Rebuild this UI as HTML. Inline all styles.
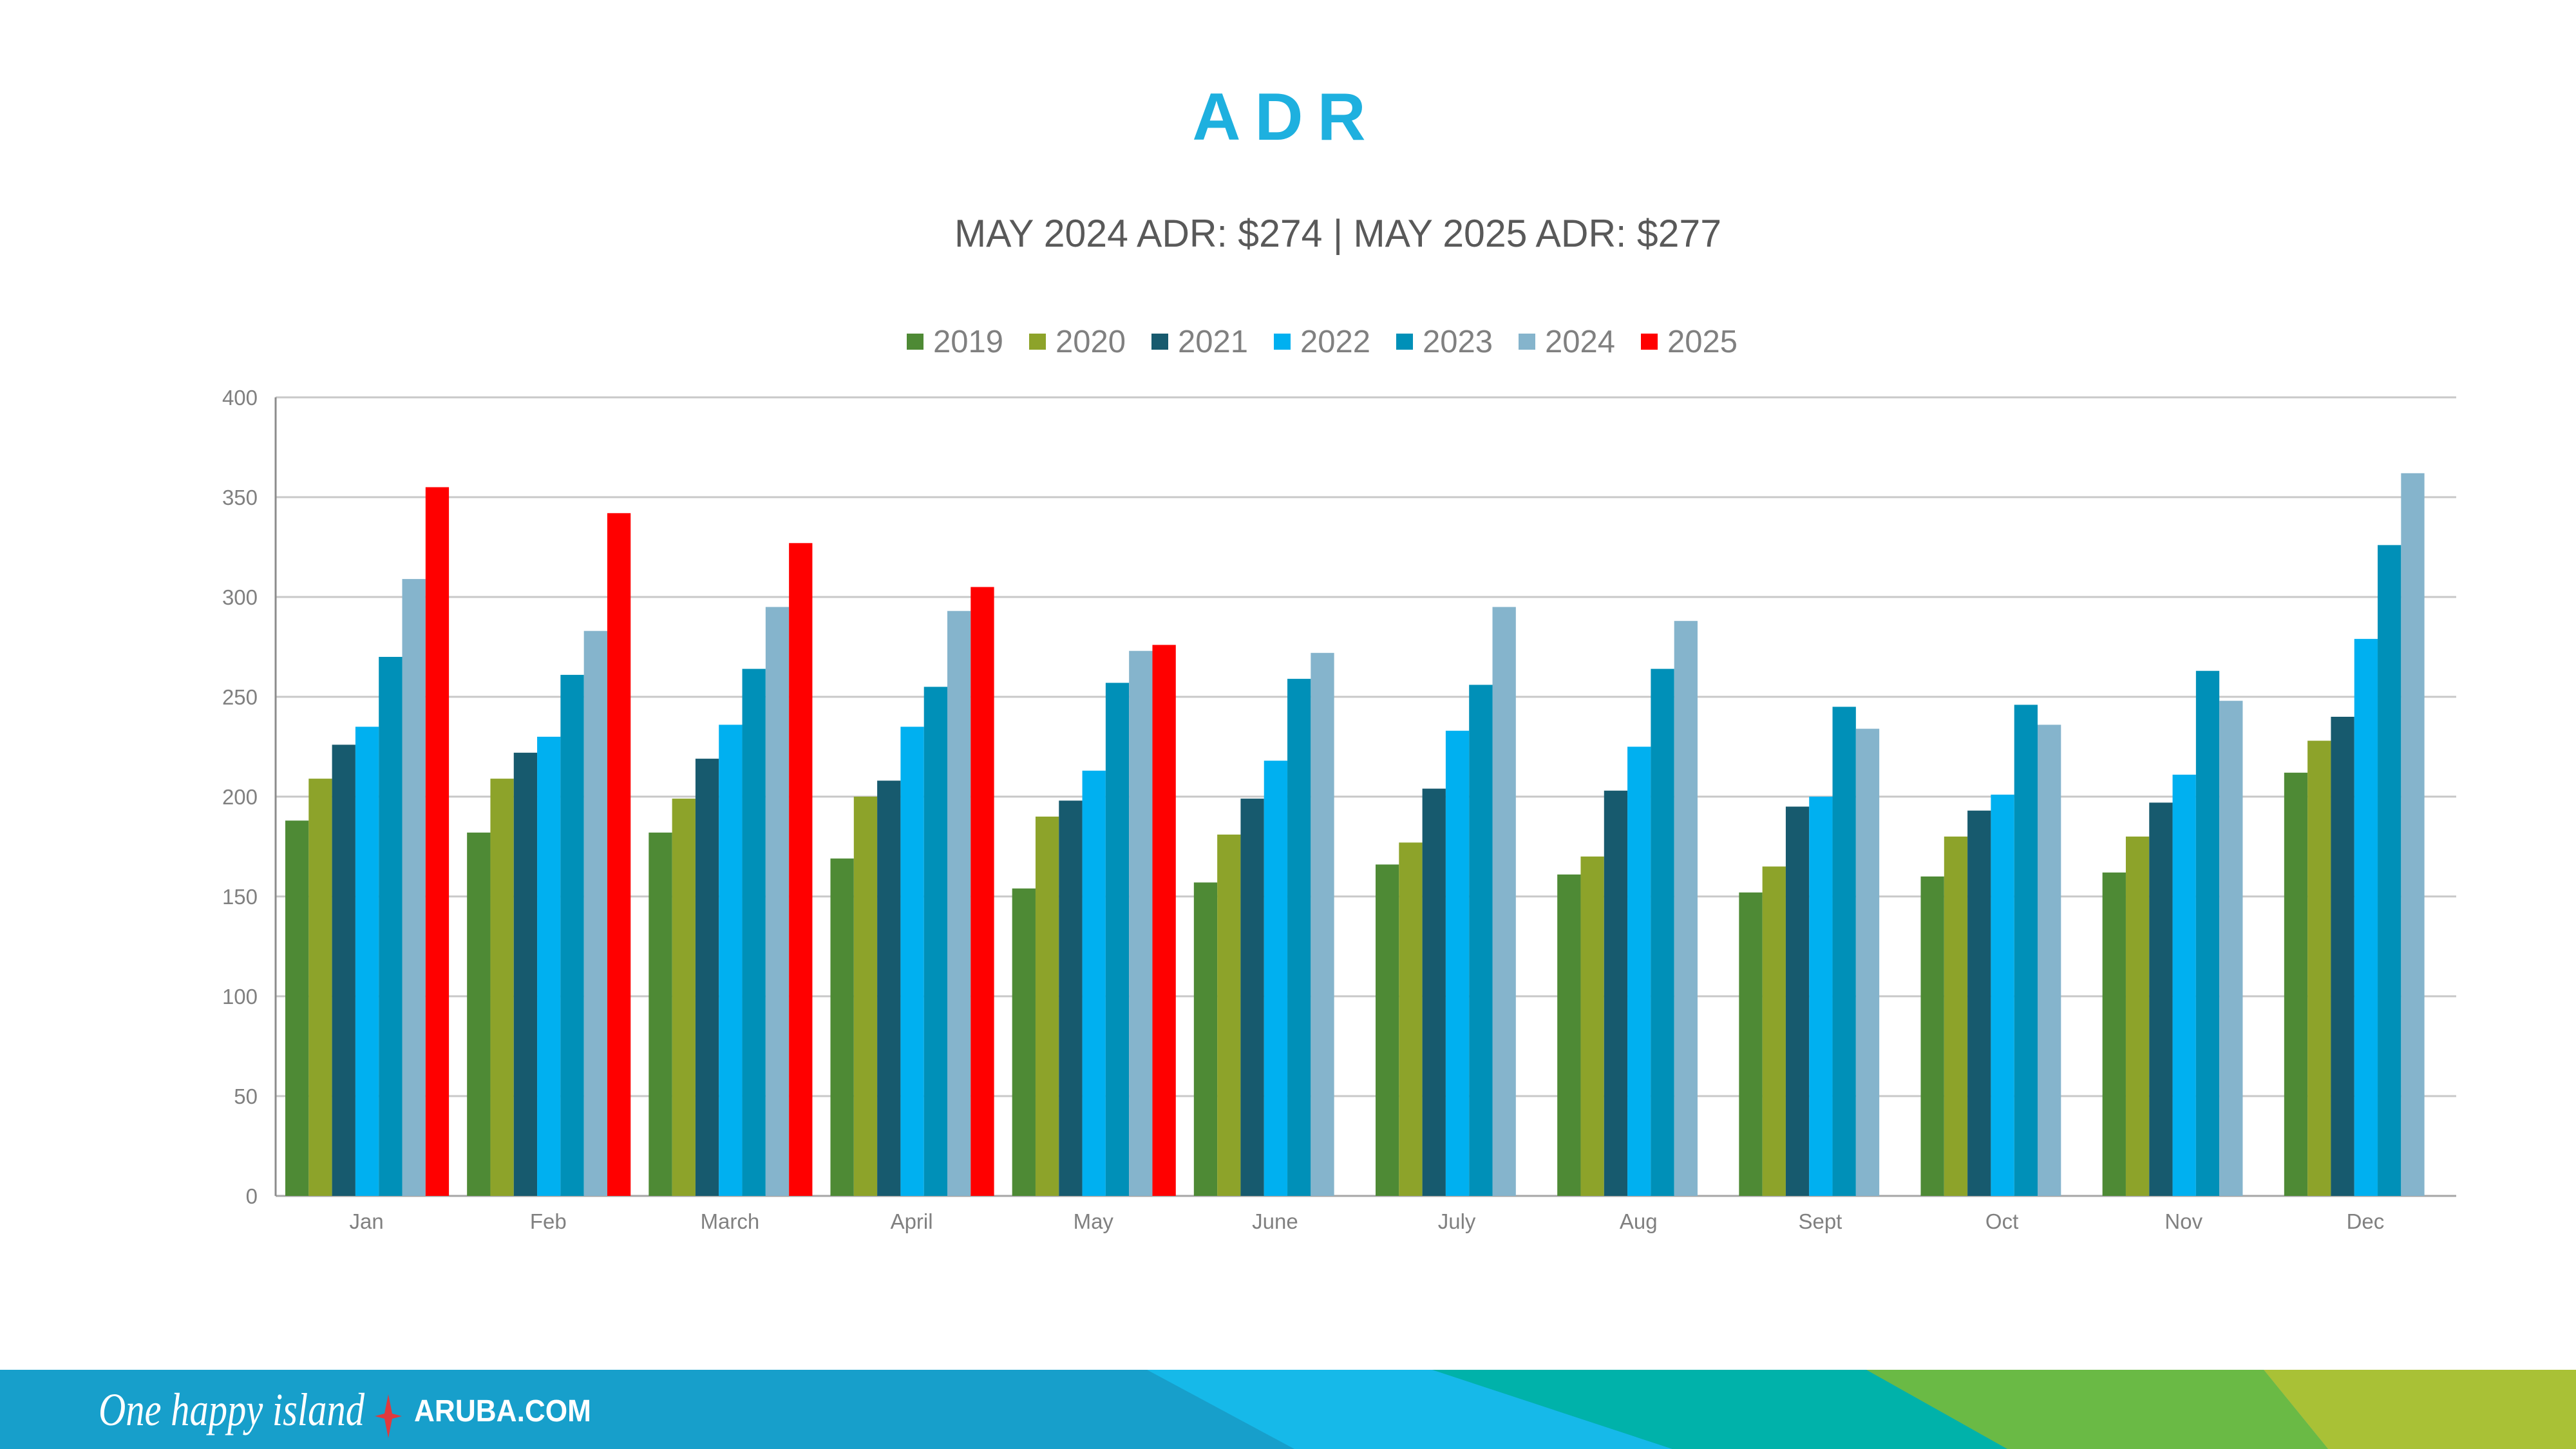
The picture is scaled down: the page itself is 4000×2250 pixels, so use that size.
<!DOCTYPE html>
<html><head><meta charset="utf-8"><style>html,body{margin:0;padding:0;background:#fff}svg{display:block}</style></head>
<body>
<svg width="4000" height="2250" viewBox="0 0 4000 2250" xmlns="http://www.w3.org/2000/svg" font-family="Liberation Sans, sans-serif">
<text x="1997" y="217" text-anchor="middle" font-size="104" font-weight="bold" fill="#1eb0df" letter-spacing="22">ADR</text>
<text x="1482" y="383" font-size="60" fill="#595959" textLength="1191" lengthAdjust="spacingAndGlyphs">MAY 2024 ADR: $274 | MAY 2025 ADR: $277</text>
<g id="legend" font-size="49" fill="#808080"></g>
<g id="grid"></g>
<g id="bars"></g>
<g id="footer">
<rect x="0" y="2127" width="4000" height="123" fill="#179fcb"/>
<polygon points="1781,2127 2224,2127 2597,2250 2010,2250" fill="#16b9e9"/>
<polygon points="2224,2127 2898,2127 3117,2250 2597,2250" fill="#00b2aa"/>
<polygon points="2898,2127 3515,2127 3615,2250 3117,2250" fill="#6aba45"/>
<polygon points="3515,2127 4000,2127 4000,2250 3615,2250" fill="#a9c136"/>
<text x="153" y="2213" font-size="72" font-style="italic" font-family="Liberation Serif, serif" fill="#fff" textLength="413" lengthAdjust="spacingAndGlyphs">One happy island</text>
<polygon points="603,2165 609,2195 624,2199 609,2203 603,2233 597,2203 582,2199 597,2195" fill="#e03a3e"/>
<text x="643" y="2207" font-size="48" font-weight="bold" fill="#fff" textLength="275" lengthAdjust="spacingAndGlyphs">ARUBA.COM</text>
</g>
</svg>
<script>
const ns="http://www.w3.org/2000/svg";
function el(p,t,a,txt){const e=document.createElementNS(ns,t);for(const k in a)e.setAttribute(k,a[k]);if(txt!==undefined)e.textContent=txt;p.appendChild(e);return e;}
const cols=["#4e8a35","#8da32a","#175a6e","#00b0f0","#0090b8","#85b4cc","#ff0000"];
const yrs=["2019","2020","2021","2022","2023","2024","2025"];
const lg=document.getElementById("legend");
yrs.forEach((y,i)=>{const x=1408+i*190;el(lg,"rect",{x:x,y:518,width:26,height:25,fill:cols[i]});el(lg,"text",{x:x+41,y:547},y);});
const x0=428,x1=3814,y0=1857,k=3.1;
const g=document.getElementById("grid");
for(let v=0;v<=400;v+=50){const y=y0-v*k;el(g,"line",{x1:x0,x2:x1,y1:y,y2:y,stroke:v==0?"#a6a6a6":"#c8c8c8","stroke-width":3});el(g,"text",{x:400,y:y+12,"text-anchor":"end","font-size":33,fill:"#808080"},v);}
el(g,"line",{x1:x0,x2:x0,y1:y0-400*k,y2:y0,stroke:"#8c8c8c","stroke-width":3});
const data=[["Jan",[188,209,226,235,270,309,355]],["Feb",[182,209,222,230,261,283,342]],["March",[182,199,219,236,264,295,327]],["April",[169,200,208,235,255,293,305]],["May",[154,190,198,213,257,273,276]],["June",[157,181,199,218,259,272]],["July",[166,177,204,233,256,295]],["Aug",[161,170,203,225,264,288]],["Sept",[152,165,195,200,245,234]],["Oct",[160,180,193,201,246,236]],["Nov",[162,180,197,211,263,248]],["Dec",[212,228,240,279,326,362]]];
const b=document.getElementById("bars");const gw=(x1-x0)/12;
data.forEach((d,i)=>{const gx=x0+i*gw;d[1].forEach((v,j)=>{el(b,"rect",{x:gx+15+j*36.3,y:y0-v*k,width:36.3,height:v*k,fill:cols[j]});});
el(b,"text",{x:gx+gw/2,y:1908,"text-anchor":"middle","font-size":33,fill:"#808080"},d[0]);});
</script>
</body></html>
